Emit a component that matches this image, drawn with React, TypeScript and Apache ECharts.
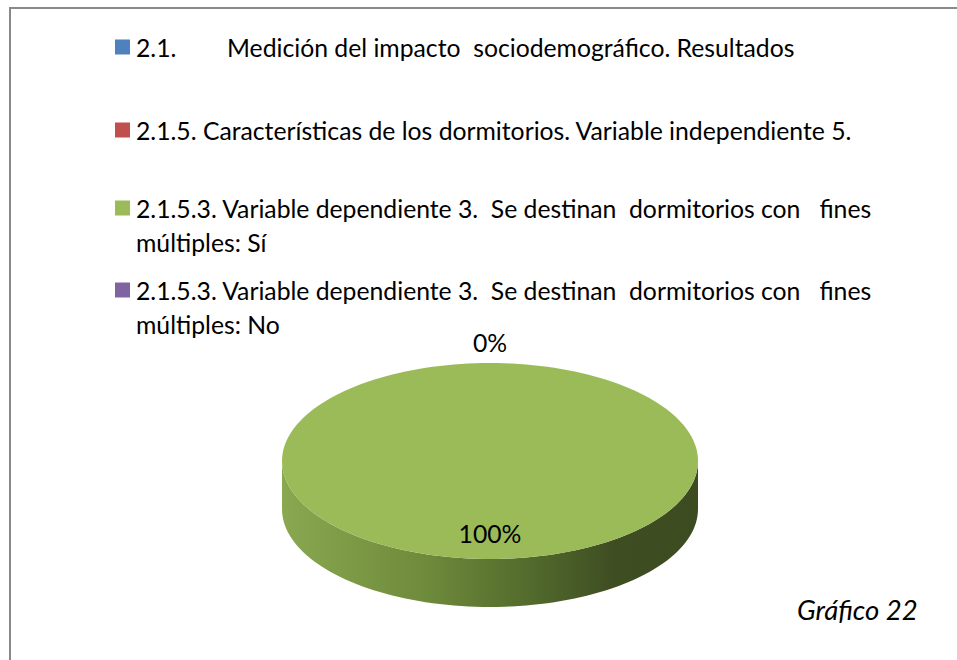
import React, { useEffect, useRef } from "react";
import * as echarts from "echarts";

// ---- data ----
const categories: string[] = [
  "2.1.        Medición del impacto  sociodemográfico. Resultados",
  "2.1.5. Características de los dormitorios. Variable independiente 5.",
  "2.1.5.3. Variable dependiente 3.  Se destinan  dormitorios con   fines\nmúltiples: Sí",
  "2.1.5.3. Variable dependiente 3.  Se destinan  dormitorios con   fines\nmúltiples: No",
];
const values: (number | null)[] = [null, null, 100, 0];
const colors: string[] = ["#4f81bd", "#c0504d", "#9bbb59", "#8064a2"];
const caption = "Gráfico 22";

// ---- layout ----
const FONT = "Lato";
const FS = 25;
const SX = 0.99;
const LEG_X_ICON = 115;
const LEG_X_TEXT = 136;
const LEG_Y = [47, 130, 208, 290];
const LINE_H = 34;
const CX = 490, CY = 461, RX = 208, RY = 98, DEPTH = 48;

const total = values.reduce<number>((s, v) => s + (v ?? 0), 0);

function angles(i: number): [number, number] {
  let start = 0;
  for (let j = 0; j < i; j++) start += values[j] ?? 0;
  const v = values[i] ?? 0;
  return [(start / total) * Math.PI * 2, ((start + v) / total) * Math.PI * 2];
}
function pt(t: number, dy = 0): number[] {
  return [CX + RX * Math.sin(t), CY - RY * Math.cos(t) + dy];
}
function arcPts(a0: number, a1: number, dy = 0): number[][] {
  const n = Math.max(2, Math.ceil(((a1 - a0) / (Math.PI * 2)) * 180));
  const out: number[][] = [];
  for (let k = 0; k <= n; k++) out.push(pt(a0 + ((a1 - a0) * k) / n, dy));
  return out;
}

export default function App() {
  const ref = useRef<HTMLDivElement>(null);
  useEffect(() => {
    if (!ref.current) return;
    const chart = echarts.init(ref.current, undefined, { renderer: "svg" });

    const legendEls: any[] = [];
    categories.forEach((name, i) => {
      legendEls.push({
        type: "rect",
        shape: { x: LEG_X_ICON, y: LEG_Y[i] - 7.5, width: 15, height: 15 },
        style: { fill: colors[i] },
      });
      legendEls.push({
        type: "text",
        x: LEG_X_TEXT,
        y: LEG_Y[i] - LINE_H / 2,
        scaleX: SX,
        style: {
          text: name,
          font: `${FS}px ${FONT}`,
          fill: "#000",
          lineHeight: LINE_H,
          verticalAlign: "top",
          align: "left",
        },
      });
    });

    const sideGradient = new echarts.graphic.LinearGradient(0, 0, 1, 0, [
      { offset: 0, color: "#8aa850" },
      { offset: 0.35, color: "#6e8a3b" },
      { offset: 0.6, color: "#526a2c" },
      { offset: 0.8, color: "#3e4d22" },
      { offset: 1, color: "#3d4b21" },
    ]);

    const data = values.map((v) => v ?? 0);

    chart.setOption({
      animation: false,
      backgroundColor: "#fff",
      series: [
        {
          type: "custom",
          name: "sides",
          coordinateSystem: "none",
          z: 1,
          data,
          renderItem: (params: any) => {
            const i = params.dataIndex;
            if (values[i] == null || !values[i]) return { type: "group", children: [] };
            const [a0, a1] = angles(i);
            const lo = Math.max(a0, Math.PI / 2);
            const hi = Math.min(a1, (Math.PI * 3) / 2);
            if (hi <= lo) return { type: "group", children: [] };
            const topArc = arcPts(lo, hi);
            const botArc = arcPts(lo, hi, DEPTH).reverse();
            return {
              type: "polygon",
              shape: { points: topArc.concat(botArc) },
              style: { fill: sideGradient, stroke: "none" },
            };
          },
        },
        {
          type: "custom",
          name: "tops",
          coordinateSystem: "none",
          z: 2,
          data,
          renderItem: (params: any) => {
            const i = params.dataIndex;
            const v = values[i];
            if (v == null) return { type: "group", children: [] };
            const [a0, a1] = angles(i);
            const children: any[] = [];
            const frac = v / total;
            if (frac > 0) {
              let pts = arcPts(a0, a1);
              if (a1 - a0 < Math.PI * 2 - 1e-6) pts = [[CX, CY]].concat(pts);
              children.push({
                type: "polygon",
                shape: { points: pts },
                style: { fill: colors[i], stroke: "none" },
              });
            }
            const mid = (a0 + a1) / 2;
            const inside = frac > 0.05;
            const k = inside ? 0.73 : 1;
            const extra = inside ? 0 : 21;
            const lx = CX + (RX * k + extra) * Math.sin(mid);
            const ly = CY - (RY * k + extra) * Math.cos(mid);
            children.push({
              type: "text",
              x: lx,
              y: ly,
              scaleX: SX,
              style: {
                text: Math.round(frac * 100) + "%",
                font: `${FS}px ${FONT}`,
                fill: "#000",
                align: "center",
                verticalAlign: "middle",
              },
              z2: 10,
            });
            return { type: "group", children };
          },
        },
      ],
      graphic: [
        {
          type: "polyline",
          shape: { points: [[10, 660], [10, 8], [957, 8]] },
          style: { stroke: "#898989", lineWidth: 2, fill: "none" },
        },
        ...legendEls,
        {
          type: "text",
          x: 797,
          y: 609,
          style: {
            text: caption,
            font: `italic 27.5px ${FONT}`,
            fill: "#000",
            align: "left",
            verticalAlign: "middle",
          },
        },
      ],
    });
    return () => chart.dispose();
  }, []);
  return (
    <div
      ref={ref}
      style={{ position: "fixed", left: 0, top: 0, width: 957, height: 660 }}
    />
  );
}
